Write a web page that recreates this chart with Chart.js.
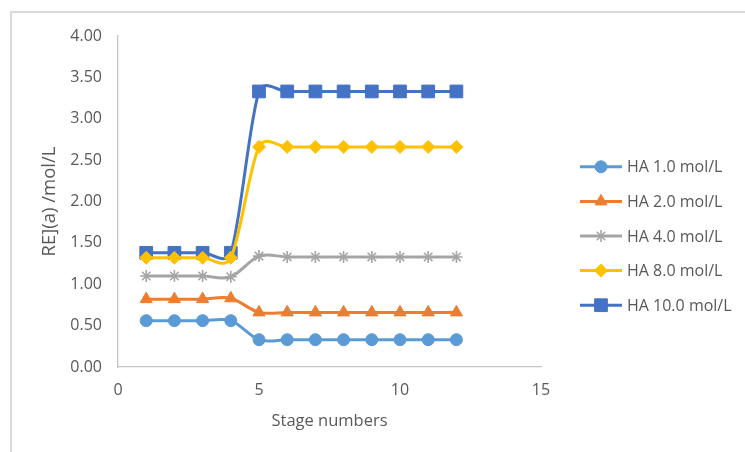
<!DOCTYPE html>
<html>
<head>
<meta charset="utf-8">
<script src="https://cdn.jsdelivr.net/npm/chart.js@4/dist/chart.umd.min.js"></script>
<style>
  html, body { margin: 0; padding: 0; background: #ffffff; overflow: hidden; }
  #wrap { position: relative; width: 745px; height: 452px; }
</style>
</head>
<body>
<div id="wrap"><canvas id="chart" width="745" height="452"></canvas></div>
<script>
// Stage numbers and RE(a) values for each HA concentration
const stages = [1, 2, 3, 4, 5, 6, 7, 8, 9, 10, 11, 12];
const seriesNames = ['HA 1.0 mol/L', 'HA 2.0 mol/L', 'HA 4.0 mol/L', 'HA 8.0 mol/L', 'HA 10.0 mol/L'];
const ha1 = [0.56, 0.56, 0.56, 0.56, 0.33, 0.33, 0.33, 0.33, 0.33, 0.33, 0.33, 0.33];
const ha2 = [0.82, 0.82, 0.82, 0.83, 0.66, 0.66, 0.66, 0.66, 0.66, 0.66, 0.66, 0.66];
const ha4 = [1.10, 1.10, 1.10, 1.09, 1.34, 1.33, 1.33, 1.33, 1.33, 1.33, 1.33, 1.33];
const ha8 = [1.32, 1.32, 1.32, 1.32, 2.66, 2.66, 2.66, 2.66, 2.66, 2.66, 2.66, 2.66];
const ha10 = [1.38, 1.38, 1.38, 1.38, 3.33, 3.33, 3.33, 3.33, 3.33, 3.33, 3.33, 3.33];
const xTicks = [0, 5, 10, 15];
const yTicks = [0, 0.5, 1, 1.5, 2, 2.5, 3, 3.5, 4];

const seriesValues = [ha1, ha2, ha4, ha8, ha10];
const colors = ['#5B9BD5', '#ED7D31', '#A5A5A5', '#FFC000', '#4472C4'];
const markers = [
  { style: 'circle', radius: 6 },
  { style: 'triangle', radius: 7 },
  { style: 'star', radius: 6 },
  { style: 'rectRot', radius: 6.5 },
  { style: 'rect', radius: 9 }
];

const FONT = "'Open Sans', 'DejaVu Sans', sans-serif";
const TEXT = '#595959';

const datasets = seriesValues.map((vals, i) => ({
  label: seriesNames[i],
  data: stages.map((s, k) => ({ x: s, y: vals[k] })),
  borderColor: colors[i],
  backgroundColor: colors[i],
  borderWidth: 3,
  tension: 0.4,
  pointStyle: markers[i].style,
  pointRadius: markers[i].radius,
  pointHoverRadius: markers[i].radius,
  pointBorderWidth: markers[i].style === 'star' ? 1.6 : 1,
  pointBorderColor: colors[i],
  pointBackgroundColor: colors[i]
}));

// White page with the light frame around the chart
const framePlugin = {
  id: 'frame',
  beforeDraw(chart) {
    const ctx = chart.ctx;
    ctx.save();
    ctx.fillStyle = '#ffffff';
    ctx.fillRect(0, 0, chart.width, chart.height);
    ctx.fillStyle = '#d9d9d9';
    ctx.fillRect(10, 11, chart.width - 10, 2);
    ctx.fillRect(10, 11, 2, chart.height - 11);
    ctx.restore();
  }
};

// Smoothed lines: Catmull-Rom style control points (1/6 of the neighbour chord),
// with each handle capped at half of its own segment length.
const smoothLines = {
  id: 'smoothLines',
  beforeDatasetsDraw(chart) {
    chart.getSortedVisibleDatasetMetas().forEach(meta => {
      const line = meta.dataset;
      const pts = meta.data;
      if (!line || pts.length < 2) return;
      if (typeof line.updateControlPoints === 'function') {
        line.updateControlPoints(chart.chartArea, meta.indexAxis);
      }
      const n = pts.length;
      const P = i => pts[Math.max(0, Math.min(n - 1, i))];
      const dist = (a, b) => Math.hypot(b.x - a.x, b.y - a.y);
      for (let i = 0; i < n - 1; i++) {
        const p0 = P(i - 1), p1 = P(i), p2 = P(i + 1), p3 = P(i + 2);
        const d12 = dist(p1, p2);
        const d02 = dist(p0, p2);
        const d13 = dist(p1, p3);
        const f1 = d02 > 0 ? Math.min(1 / 6, (d12 / 2) / d02) : 0;
        const f2 = d13 > 0 ? Math.min(1 / 6, (d12 / 2) / d13) : 0;
        p1.cp2x = p1.x + (p2.x - p0.x) * f1;
        p1.cp2y = p1.y + (p2.y - p0.y) * f1;
        p2.cp1x = p2.x - (p3.x - p1.x) * f2;
        p2.cp1y = p2.y - (p3.y - p1.y) * f2;
      }
      pts[0].cp1x = pts[0].x; pts[0].cp1y = pts[0].y;
      pts[n - 1].cp2x = pts[n - 1].x; pts[n - 1].cp2y = pts[n - 1].y;
      line._pointsUpdated = true;
      line._path = undefined;
    });
  }
};

// Legend on the right: line segment with marker, then the series name
const sideLegend = {
  id: 'sideLegend',
  afterDraw(chart) {
    const ctx = chart.ctx;
    const area = chart.chartArea;
    const midY = (area.top + area.bottom) / 2;
    const step = 34.6;
    const x0 = area.right + 39;
    const lineLen = 42;
    const drawPoint = Chart.helpers && Chart.helpers.drawPoint;
    ctx.save();
    chart.data.datasets.forEach((ds, i) => {
      const y = midY + 34.5 + (i - 2) * step;
      ctx.strokeStyle = ds.borderColor;
      ctx.lineWidth = 3;
      ctx.beginPath();
      ctx.moveTo(x0, y);
      ctx.lineTo(x0 + lineLen, y);
      ctx.stroke();
      ctx.fillStyle = ds.pointBackgroundColor;
      ctx.strokeStyle = ds.pointBorderColor;
      ctx.lineWidth = ds.pointBorderWidth;
      if (drawPoint) {
        drawPoint(ctx, { pointStyle: ds.pointStyle, radius: ds.pointRadius, rotation: 0, borderWidth: ds.pointBorderWidth }, x0 + lineLen / 2, y);
      } else {
        ctx.beginPath();
        ctx.arc(x0 + lineLen / 2, y, 5, 0, Math.PI * 2);
        ctx.fill();
      }
      ctx.fillStyle = TEXT;
      ctx.font = '16px ' + FONT;
      ctx.textAlign = 'left';
      ctx.textBaseline = 'middle';
      ctx.fillText(ds.label, x0 + lineLen + 5, y + 1);
    });
    ctx.restore();
  }
};

new Chart(document.getElementById('chart'), {
  type: 'line',
  data: { datasets },
  plugins: [framePlugin, smoothLines, sideLegend],
  options: {
    responsive: false,
    animation: false,
    events: [],
    layout: { padding: { left: 0, top: 36, right: 204, bottom: 0 } },
    plugins: {
      legend: { display: false },
      tooltip: { enabled: false }
    },
    scales: {
      x: {
        type: 'linear',
        min: xTicks[0],
        max: xTicks[xTicks.length - 1],
        afterBuildTicks(scale) { scale.ticks = xTicks.map(v => ({ value: v })); },
        afterFit(scale) { scale.height = 85; },
        grid: { display: false, drawTicks: false },
        border: { display: true, color: '#c4c4c4', width: 1.3 },
        ticks: { padding: 14, color: TEXT, font: { family: FONT, size: 16 }, callback: v => String(v) },
        title: {
          display: true,
          text: 'Stage numbers',
          color: TEXT,
          font: { family: FONT, size: 16.5 },
          padding: { top: 0, bottom: 21 }
        }
      },
      y: {
        type: 'linear',
        min: yTicks[0],
        max: yTicks[yTicks.length - 1],
        afterBuildTicks(scale) { scale.ticks = yTicks.map(v => ({ value: v })); },
        afterFit(scale) { scale.width = 118; },
        grid: { display: false, drawTicks: false },
        border: { display: true, color: '#c4c4c4', width: 1.3 },
        ticks: { padding: 16, color: TEXT, font: { family: FONT, size: 16 }, callback: v => Number(v).toFixed(2) },
        title: {
          display: true,
          text: 'RE](a) /mol/L',
          color: TEXT,
          font: { family: FONT, size: 18.5 },
          padding: { top: 39, bottom: 0 }
        }
      }
    }
  }
});
</script>
</body>
</html>
